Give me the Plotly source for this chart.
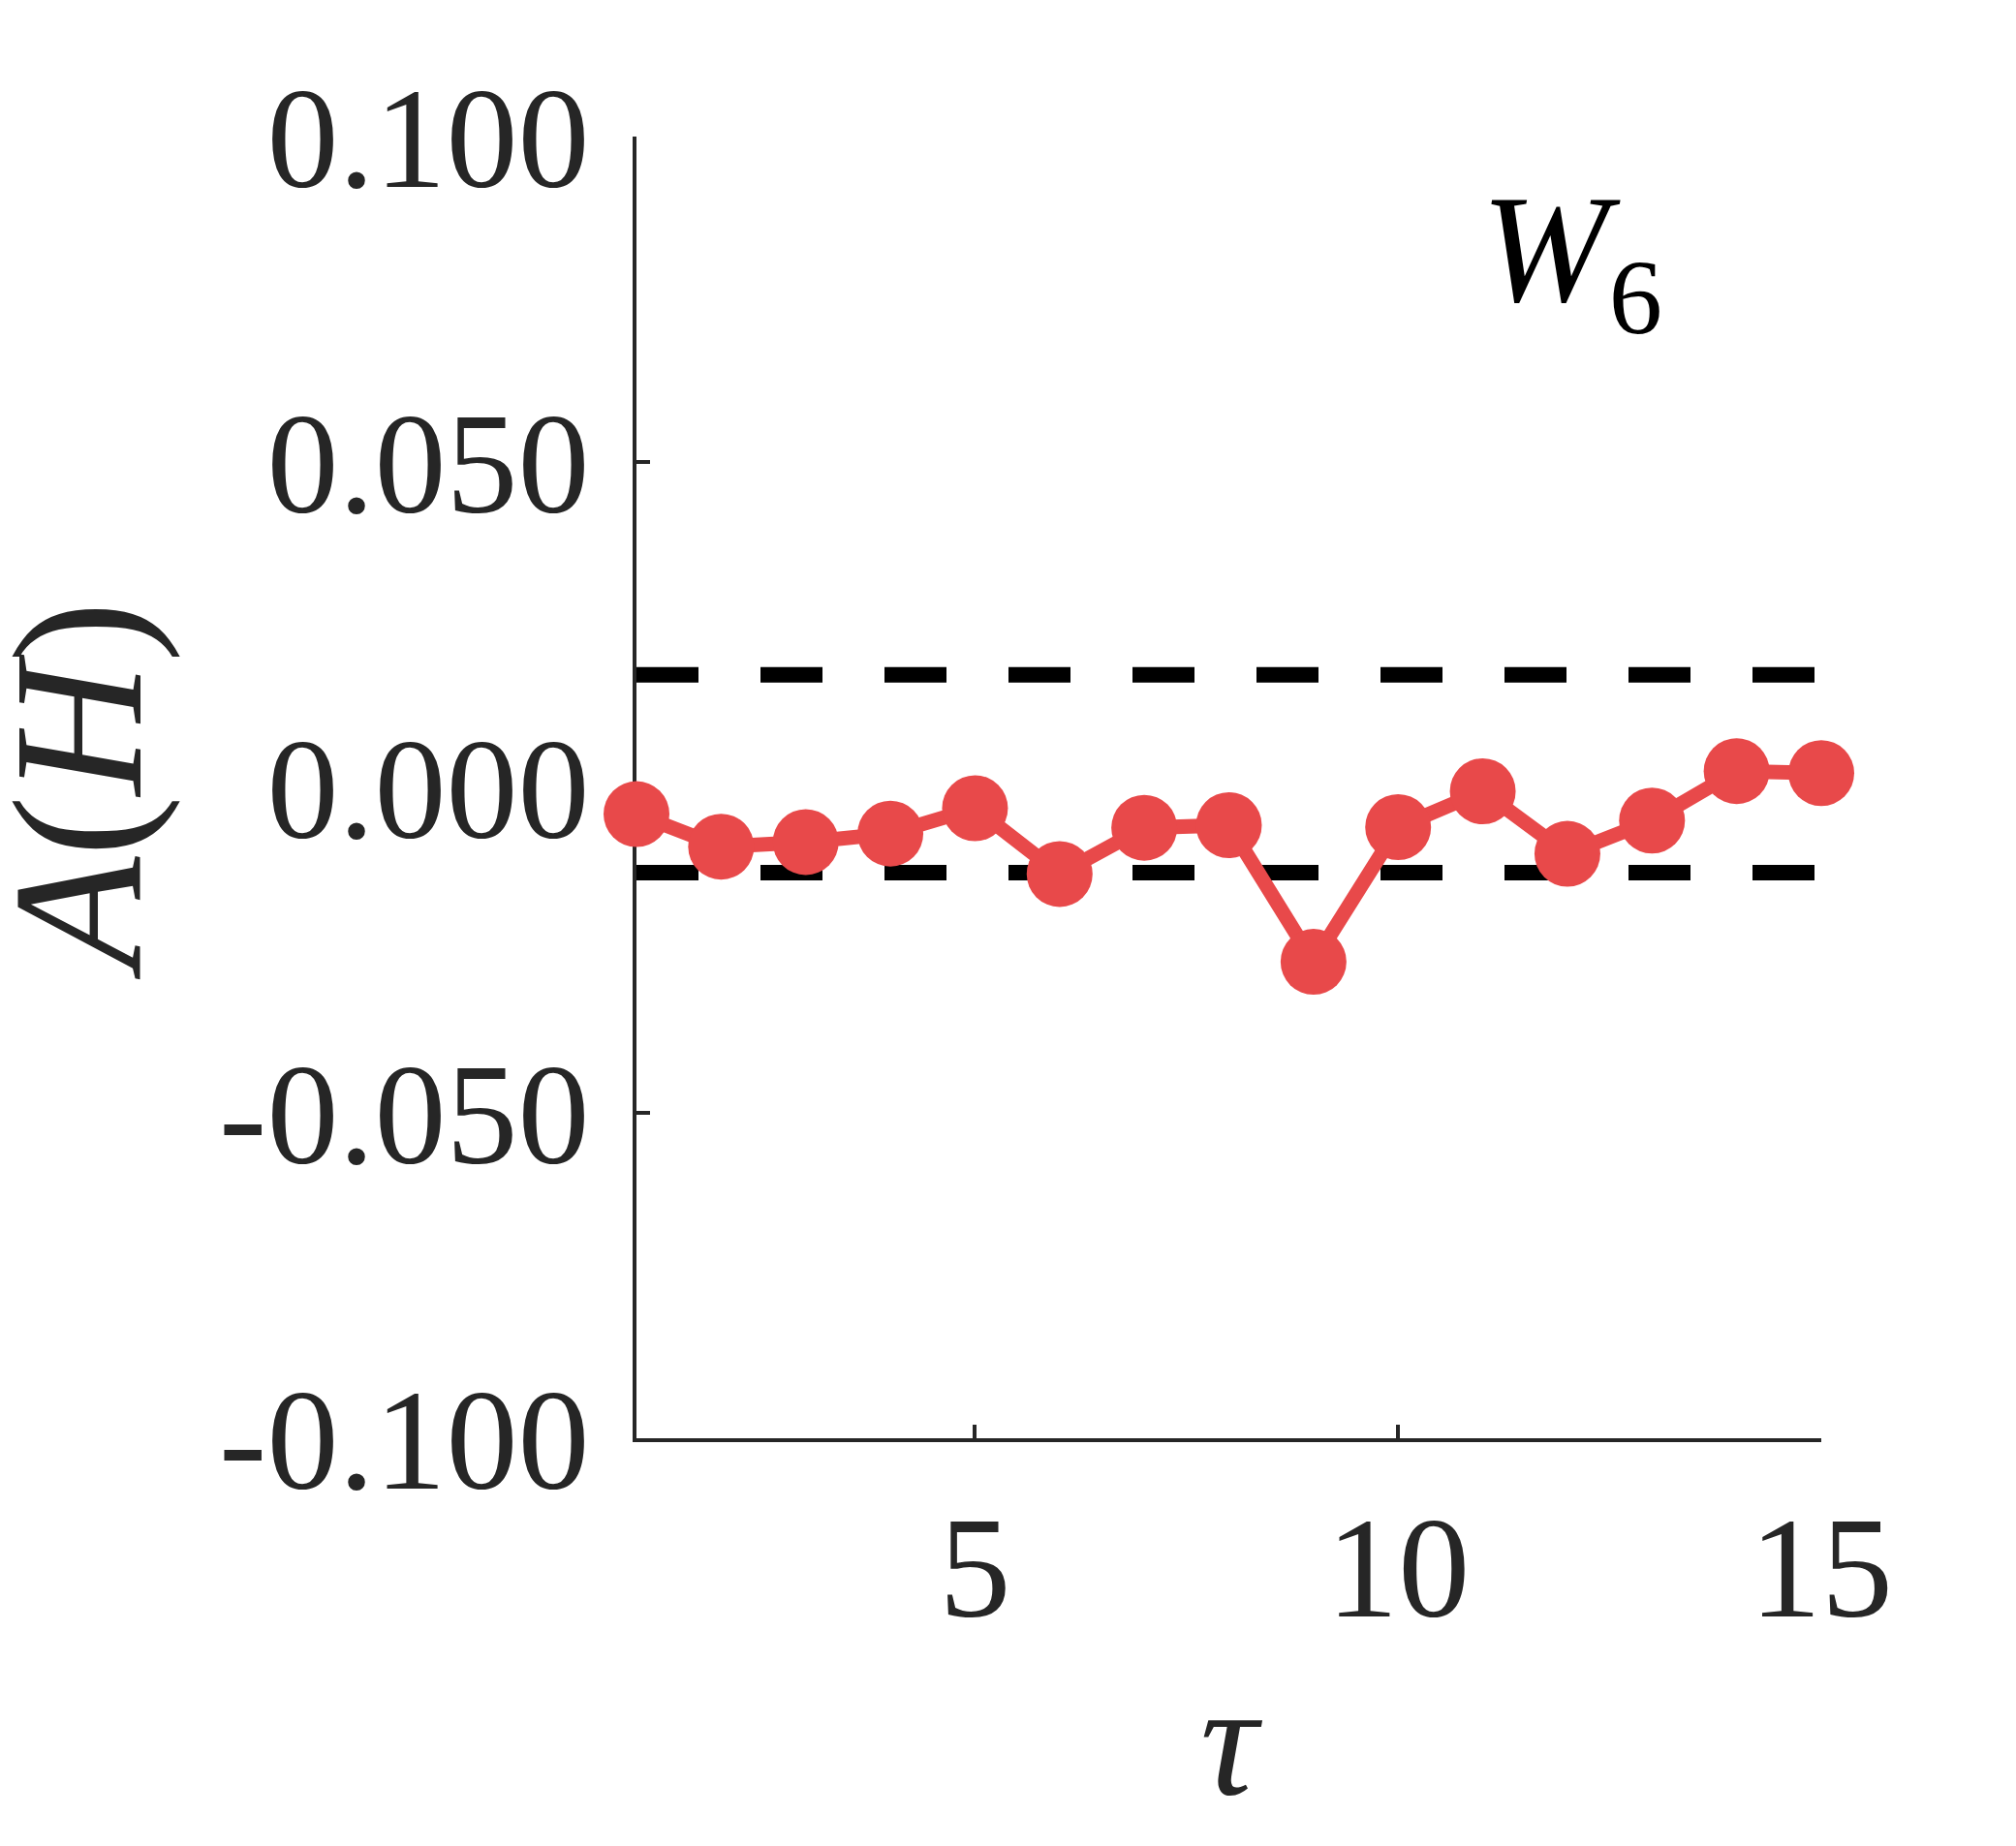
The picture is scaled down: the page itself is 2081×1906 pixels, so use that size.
import plotly.graph_objects as go

# ---- data ----
tau = [1, 2, 3, 4, 5, 6, 7, 8, 9, 10, 11, 12, 13, 14, 15]
a_h = [-0.0041, -0.0091, -0.0084, -0.0071, -0.0032, -0.0133, -0.0062, -0.0058,
       -0.0268, -0.0061, -0.0006, -0.0102, -0.0051, 0.0025, 0.0022]
upper_bound = 0.0173
lower_bound = -0.0131
x_range = [1, 15]
y_range = [-0.1, 0.1]
x_tickvals = [5, 10, 15]
x_ticktext = ["5", "10", "15"]
y_tickvals = [-0.1, -0.05, 0.0, 0.05, 0.1]
y_ticktext = ["-0.100", "-0.050", "0.000", "0.050", "0.100"]
y_title = "<i>A</i>(<i>H</i>)"
x_title = "<i>τ</i>"
panel_label = "<i>W</i><sub>6</sub>"
panel_pos = (12.05, 0.081)

RED = "#E8494A"
INK = "#262626"
FONT = "Liberation Serif"

fig = go.Figure()

for thr in (upper_bound, lower_bound):
    fig.add_trace(go.Scatter(
        x=x_range, y=[thr, thr], mode="lines",
        line=dict(color="black", width=16, dash="64px,64px"),
        hoverinfo="skip", showlegend=False,
    ))

fig.add_trace(go.Scatter(
    x=tau, y=a_h, mode="lines+markers",
    line=dict(color=RED, width=15),
    marker=dict(color=RED, size=68),
    cliponaxis=False, showlegend=False,
))

fig.add_annotation(
    x=panel_pos[0], y=panel_pos[1], xref="x", yref="y",
    text=panel_label, showarrow=False,
    font=dict(family=FONT, size=158, color="black"),
    xanchor="center", yanchor="middle",
)

# y-axis title (rotated), placed left of the tick labels
fig.add_annotation(
    x=-0.471, y=0.498, xref="paper", yref="paper",
    text=y_title, showarrow=False, textangle=-90,
    font=dict(family=FONT, size=190, color=INK),
    xanchor="center", yanchor="middle",
)

fig.update_layout(
    width=2081, height=1906,
    margin=dict(l=649, r=209, t=133, b=429),
    paper_bgcolor="white", plot_bgcolor="white",
    font=dict(family=FONT, color=INK),
)

fig.update_xaxes(
    range=x_range, tickvals=x_tickvals, ticktext=x_ticktext,
    showline=True, linecolor=INK, linewidth=4, mirror=False,
    ticks="inside", ticklen=14, tickwidth=4, tickcolor=INK,
    showgrid=False, zeroline=False, layer="below traces", automargin=False,
    tickfont=dict(family=FONT, size=148, color=INK),
    ticklabelstandoff=2,
    title=dict(text=x_title, font=dict(family=FONT, size=165, color=INK), standoff=38),
)
fig.update_yaxes(
    range=y_range, tickvals=y_tickvals, ticktext=y_ticktext,
    showline=True, linecolor=INK, linewidth=4, mirror=False,
    ticks="inside", ticklen=14, tickwidth=4, tickcolor=INK,
    showgrid=False, zeroline=False, layer="below traces", automargin=False,
    tickfont=dict(family=FONT, size=148, color=INK),
    ticklabelstandoff=15,
)

fig.write_html("out.html")
